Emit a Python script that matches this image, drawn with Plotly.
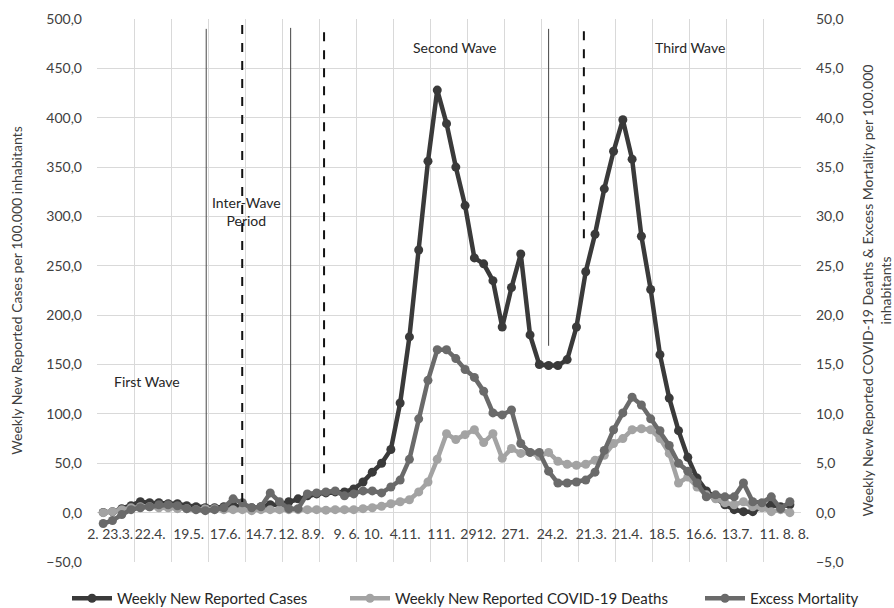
import plotly.graph_objects as go

# ---------------- data (weekly, per 100.000 inhabitants) ----------------
week_index = list(range(75))

cases = [0.2, 1, 4, 7, 11, 10, 10, 9, 9, 7,
         6, 5, 5, 6, 7, 6, 5, 6, 8, 8,
         11, 14, 17, 19, 20, 21, 21, 24, 31, 41,
         50, 64, 111, 178, 266, 356, 428, 394, 350, 311,
         258, 252, 235, 188, 228, 262, 180, 150, 149, 149,
         155, 188, 244, 282, 328, 366, 398, 358, 280, 226,
         160, 116, 83, 56, 35, 22, 15, 8, 3, 1,
         1, 6, 8, 6, 8]

deaths = [0.0, 0.1, 0.3, 0.5, 0.6, 0.6, 0.5, 0.5, 0.4, 0.4,
          0.3, 0.4, 0.4, 0.3, 0.3, 0.3, 0.2, 0.3, 0.3, 0.3,
          0.3, 0.3, 0.3, 0.3, 0.25, 0.3, 0.3, 0.3, 0.4, 0.5,
          0.65, 0.9, 1.1, 1.3, 2.1, 3.1, 5.4, 8.0, 7.4, 7.9,
          8.4, 7.1, 8.0, 5.5, 6.5, 6.0, 6.1, 5.7, 6.1, 5.2,
          4.9, 4.8, 4.9, 5.3, 5.8, 7.0, 7.5, 8.4, 8.5, 8.4,
          7.5, 6.0, 3.0, 3.6, 2.6, 1.8, 1.4, 1.0, 0.8, 1.1,
          0.6, 0.5, 0.1, 0.3, 0.0]

excess = [-1.1, -0.8, -0.2, 0.3, 0.5, 0.6, 0.8, 0.8, 0.7, 0.4,
          0.3, 0.2, 0.3, 0.5, 1.4, 1.0, 0.5, 0.6, 2.0, 1.1,
          0.4, 0.4, 1.9, 2.0, 2.1, 2.2, 1.7, 1.9, 2.2, 2.2,
          2.0, 2.6, 3.3, 5.4, 9.5, 13.4, 16.5, 16.5, 15.6, 14.5,
          13.7, 12.3, 10.1, 9.9, 10.4, 7.0, 6.1, 6.1, 4.2, 3.0,
          3.0, 3.1, 3.3, 4.1, 6.3, 8.4, 10.1, 11.7, 10.9, 9.5,
          8.3, 6.8, 5.0, 4.2, 3.0, 1.6, 1.8, 1.6, 1.6, 3.0,
          1.1, 1.0, 1.6, 0.4, 1.1]

tick_labels = ["2. 23.3.", "22.4.", "19.5.", "17.6.", "14.7.", "12. 8.9.",
               "9. 6. 10.", "4.11.", "111.", "2912.", "271.", "24.2.",
               "21.3.", "21.4.", "18.5.", "16.6.", "13.7.", "11. 8. 8."]

series_names = ["Weekly New Reported Cases",
                "Weekly New Reported COVID-19 Deaths",
                "Excess Mortality"]

# ---------------- layout helpers ----------------
x_min, x_max = -0.67, 75.2
tick_positions = [0.75, 5.06, 9.21, 13.15, 17.0, 21.35, 27.48, 32.54, 36.42,
                  40.41, 44.4, 48.38, 52.59, 56.47, 60.45, 64.44, 68.32, 73.4]
grid_positions = [x_min + k * (x_max - x_min) / 19 for k in range(20)]
grid_positions[-1] = x_max - 0.02

FONT = "Lato, 'Open Sans', sans-serif"
C_CASES, C_DEATHS, C_EXCESS = "#3a3a3a", "#a3a3a3", "#6a6a6a"

fig = go.Figure()
fig.add_trace(go.Scatter(x=week_index, y=cases, name=series_names[0],
                         mode="lines+markers", legend="legend",
                         line=dict(color=C_CASES, width=4.5),
                         marker=dict(color=C_CASES, size=9)))
fig.add_trace(go.Scatter(x=week_index, y=deaths, name=series_names[1],
                         mode="lines+markers", yaxis="y2", legend="legend2",
                         line=dict(color=C_DEATHS, width=4.5),
                         marker=dict(color=C_DEATHS, size=9)))
fig.add_trace(go.Scatter(x=week_index, y=excess, name=series_names[2],
                         mode="lines+markers", yaxis="y2", legend="legend3",
                         line=dict(color=C_EXCESS, width=4.5),
                         marker=dict(color=C_EXCESS, size=9)))

# period separators
separators = [  # (x, y0, y1, dashed)
    (11.1, 7.8, 490, False),
    (14.98, 10.8, 494, True),
    (20.2, 14.9, 491, False),
    (23.8, 40, 495, True),
    (48.0, 169, 490, False),
    (51.8, 278, 492, True),
]
for xv, y0, y1, dashed in separators:
    fig.add_shape(type="line", xref="x", yref="y", x0=xv, x1=xv, y0=y0, y1=y1,
                  line=dict(color="#111111" if dashed else "#444444",
                            width=2 if dashed else 1,
                            dash="dash" if dashed else "solid"))

labels = [("First Wave", 4.74, 133), ("Inter-Wave<br>Period", 15.4, 305),
          ("Second Wave", 37.9, 471), ("Third Wave", 63.25, 471)]
for txt, xv, yv in labels:
    fig.add_annotation(x=xv, y=yv, xref="x", yref="y", text=txt, showarrow=False,
                       font=dict(family=FONT, size=14, color="#262626"))

legend_font = dict(family=FONT, size=15, color="#262626")
def legend_at(px_left):
    return dict(orientation="h", xref="container", yref="container",
                x=px_left / 894, xanchor="left", y=9.5 / 608, yanchor="middle",
                font=legend_font, itemwidth=40, bgcolor="rgba(0,0,0,0)")

fig.update_layout(
    width=894, height=608,
    margin=dict(l=97, r=93, t=19, b=46, autoexpand=False),
    paper_bgcolor="white", plot_bgcolor="white",
    separators=",.",
    font=dict(family=FONT, size=14, color="#404040"),
    showlegend=True,
    legend=legend_at(67),
    legend2=legend_at(345),
    legend3=legend_at(700),
    xaxis=dict(range=[x_min, x_max], tickmode="array", tickvals=tick_positions,
               ticktext=tick_labels, tickangle=0, showgrid=False, zeroline=False,
               ticks="", anchor="free", position=0.0908, ticklabelstandoff=11,
               tickfont=dict(family=FONT, size=14, color="#404040"),
               minor=dict(tickmode="array", tickvals=grid_positions, showgrid=True,
                          gridcolor="#d9d9d9", gridwidth=1, ticks="")),
    yaxis=dict(range=[-50, 500], dtick=50, tick0=0, tickformat=".1f",
               showgrid=True, gridcolor="#d9d9d9", gridwidth=1, zeroline=False,
               ticks="", ticklabelstandoff=14,
               title=dict(text="Weekly New Reported Cases per 100.000 inhabitants",
                          standoff=20, font=dict(family=FONT, size=14, color="#404040"))),
    yaxis2=dict(range=[-5, 50], dtick=5, tick0=0, tickformat=".1f",
                overlaying="y", side="right", showgrid=False, zeroline=False,
                ticks="", ticklabelstandoff=14,
                title=dict(text="Weekly New Reported COVID-19 Deaths & Excess Mortality per 100.000<br>inhabitants",
                           standoff=23, font=dict(family=FONT, size=14, color="#404040"))),
)

fig.write_html("out.html")
